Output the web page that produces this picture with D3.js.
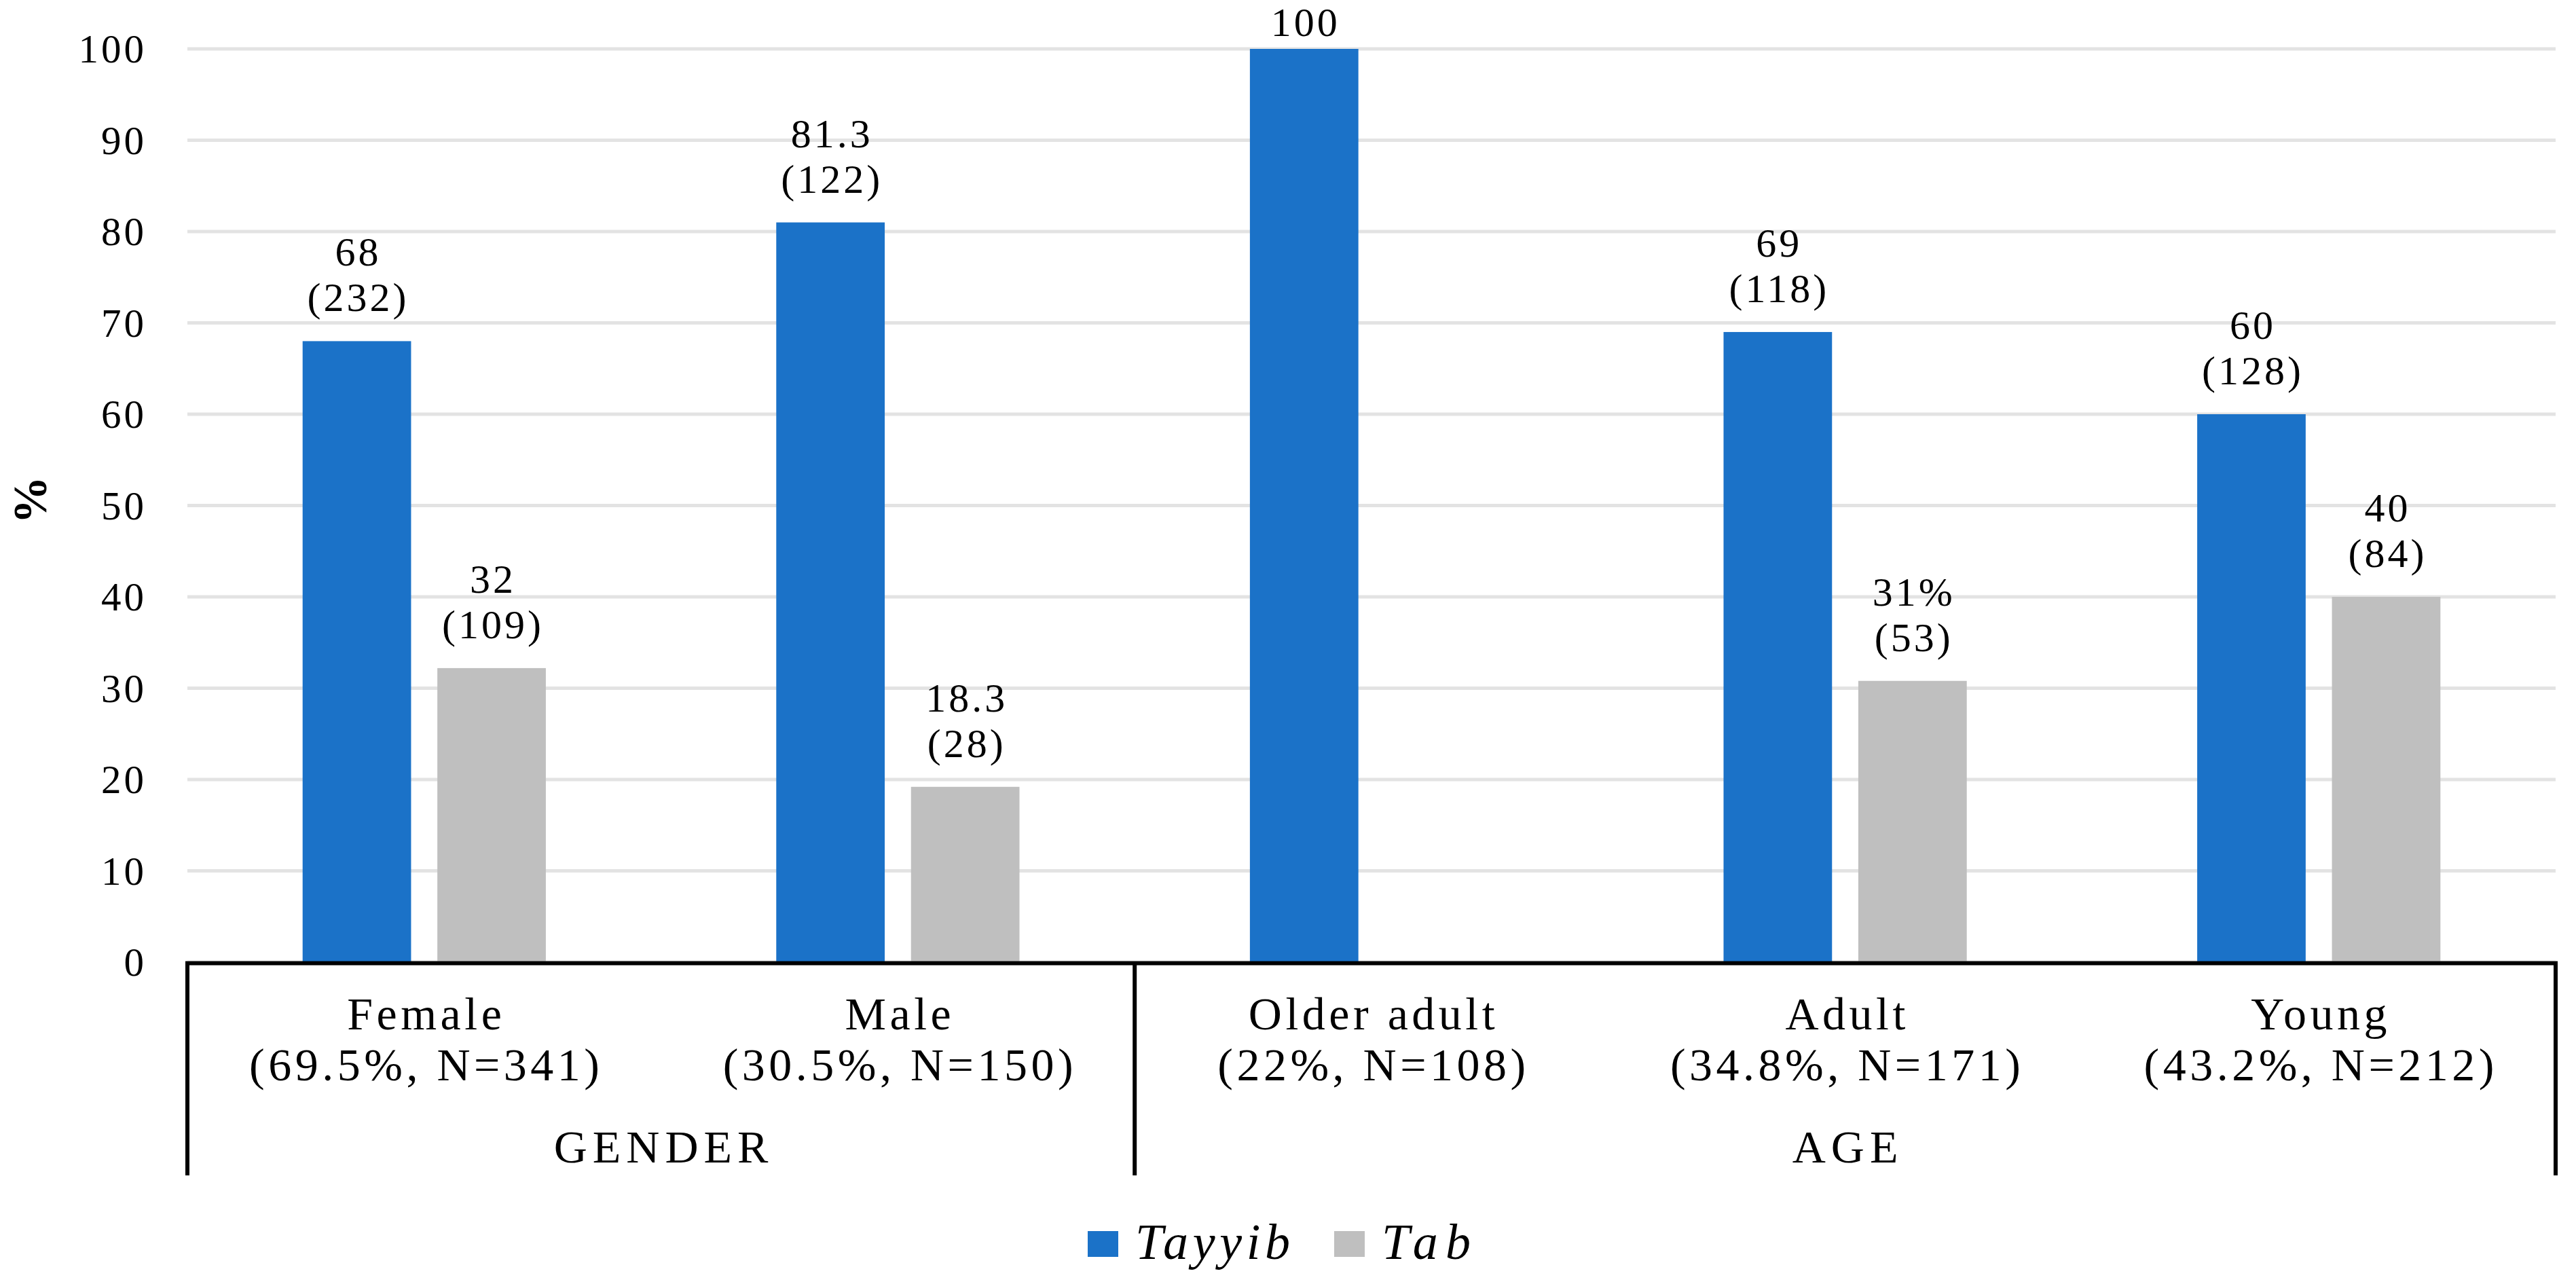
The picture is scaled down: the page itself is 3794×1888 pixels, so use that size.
<!DOCTYPE html>
<html lang="en">
<head>
    <meta charset="UTF-8">
    <title>Tayyib vs Tab by gender and age</title>
    <script src="https://d3js.org/d3.v7.min.js"></script>
    <style>
        body { margin: 0; background: #fff; }
        text { font-family: "Liberation Serif", "Times New Roman", serif; fill: #000; }
    </style>
</head>
<body>
    <svg></svg>
    <script>
        // data
        const categories = ["Female", "Male", "Older adult", "Adult", "Young"];
        const subLabels = ["(69.5%, N=341)", "(30.5%, N=150)", "(22%, N=108)", "(34.8%, N=171)", "(43.2%, N=212)"];
        const groups = ["GENDER", "AGE"];
        const groupSizes = [2, 3];
        const series = ["Tayyib", "Tab"];
        const tayyib = [68, 81, 100, 69, 60];
        const tab = [32.2, 19.2, 0, 30.8, 40];
        const tayyibLabels = [["68", "(232)"], ["81.3", "(122)"], ["100"], ["69", "(118)"], ["60", "(128)"]];
        const tabLabels = [["32", "(109)"], ["18.3", "(28)"], [], ["31%", "(53)"], ["40", "(84)"]];
        const yTicks = [0, 10, 20, 30, 40, 50, 60, 70, 80, 90, 100];
        const colors = ["#1b72c8", "#bfbfbf"];

        const width = 3794, height = 1888;
        const plotLeft = 276, plotRight = 3764, plotTop = 72, plotBottom = 1417;

        const svg = d3.select("svg")
            .attr("width", width)
            .attr("height", height);

        const x0 = d3.scaleBand().domain(categories).range([plotLeft, plotRight]);
        const x1 = d3.scaleBand().domain(series).range([0, x0.bandwidth()])
            .paddingInner(0.195).paddingOuter(0.855);
        const y = d3.scaleLinear().domain([0, 100]).range([plotBottom, plotTop]);

        // gridlines
        svg.append("g")
            .selectAll("line")
            .data(yTicks)
            .join("line")
            .attr("x1", plotLeft).attr("x2", plotRight)
            .attr("y1", d => y(d)).attr("y2", d => y(d))
            .attr("stroke", "#e3e3e3")
            .attr("stroke-width", 5);

        // y tick labels
        svg.append("g")
            .selectAll("text")
            .data(yTicks)
            .join("text")
            .attr("x", 216)
            .attr("y", d => y(d))
            .attr("dy", "0.34em")
            .attr("text-anchor", "end")
            .style("font-size", "59px")
            .style("letter-spacing", "4px")
            .text(d => d);

        // y axis title
        svg.append("text")
            .attr("transform", `translate(68, ${(plotTop + plotBottom) / 2 - 8}) rotate(-90)`)
            .attr("text-anchor", "middle")
            .style("font-size", "70px")
            .style("font-weight", "bold")
            .text("%");

        // bars
        const rows = categories.map((c, i) => ({
            cat: c,
            vals: [
                { s: series[0], v: tayyib[i], lab: tayyibLabels[i] },
                { s: series[1], v: tab[i], lab: tabLabels[i] }
            ]
        }));

        const cat = svg.append("g")
            .selectAll("g")
            .data(rows)
            .join("g")
            .attr("transform", d => `translate(${x0(d.cat)},0)`);

        cat.selectAll("rect")
            .data(d => d.vals.filter(v => v.v > 0))
            .join("rect")
            .attr("x", d => x1(d.s))
            .attr("y", d => y(d.v))
            .attr("width", x1.bandwidth())
            .attr("height", d => y(0) - y(d.v))
            .attr("fill", d => colors[series.indexOf(d.s)]);

        // value labels (two lines above each bar)
        const lineH = 67;
        cat.selectAll("text")
            .data(d => d.vals.filter(v => v.lab.length))
            .join("text")
            .attr("text-anchor", "middle")
            .style("font-size", "60px")
            .style("letter-spacing", "4px")
            .each(function (d) {
                const n = d.lab.length;
                const first = Math.max(y(d.v) - 44 - (n - 1) * lineH, 53);
                d3.select(this).selectAll("tspan")
                    .data(d.lab)
                    .join("tspan")
                    .attr("x", x1(d.s) + x1.bandwidth() / 2 + 2)
                    .attr("y", (t, j) => first + j * lineH)
                    .text(t => t);
            });

        // x axis line
        svg.append("line")
            .attr("x1", plotLeft - 3).attr("x2", plotRight + 3)
            .attr("y1", plotBottom + 1.5).attr("y2", plotBottom + 1.5)
            .attr("stroke", "#000").attr("stroke-width", 6);

        // category labels
        const catLab = svg.append("g")
            .selectAll("text")
            .data(categories)
            .join("text")
            .attr("text-anchor", "middle")
            .style("font-size", "68px")
            .style("letter-spacing", "5.5px");
        catLab.append("tspan")
            .attr("x", d => x0(d) + x0.bandwidth() / 2 + 3)
            .attr("y", 1516)
            .text(d => d);
        catLab.append("tspan")
            .attr("x", d => x0(d) + x0.bandwidth() / 2 + 3)
            .attr("y", 1591)
            .text((d, i) => subLabels[i]);

        // group separators and group labels
        let start = 0;
        const bounds = [x0.range()[0]];
        const groupMids = [];
        groupSizes.forEach(n => {
            const a = x0(categories[start]);
            const b = x0(categories[start + n - 1]) + x0.bandwidth();
            groupMids.push((a + b) / 2);
            bounds.push(b);
            start += n;
        });

        svg.append("g")
            .selectAll("line")
            .data(bounds)
            .join("line")
            .attr("x1", d => d).attr("x2", d => d)
            .attr("y1", plotBottom).attr("y2", 1731)
            .attr("stroke", "#000").attr("stroke-width", 6);

        svg.append("g")
            .selectAll("text")
            .data(groups)
            .join("text")
            .attr("x", (d, i) => groupMids[i] + 4)
            .attr("y", 1712)
            .attr("text-anchor", "middle")
            .style("font-size", "68px")
            .style("letter-spacing", "8px")
            .text(d => d);

        // legend
        const legend = svg.append("g").attr("transform", "translate(1602, 1813)");
        const legendX = [0, 363];
        const legendTextW = [228, 131];
        series.forEach((s, i) => {
            legend.append("rect")
                .attr("x", legendX[i]).attr("y", 0)
                .attr("width", 45).attr("height", 38)
                .attr("fill", colors[i]);
            legend.append("text")
                .attr("x", legendX[i] + 70).attr("y", 41)
                .attr("textLength", legendTextW[i])
                .attr("lengthAdjust", "spacing")
                .style("font-size", "74px")
                .style("font-style", "italic")
                .text(s);
        });
    </script>
</body>
</html>
